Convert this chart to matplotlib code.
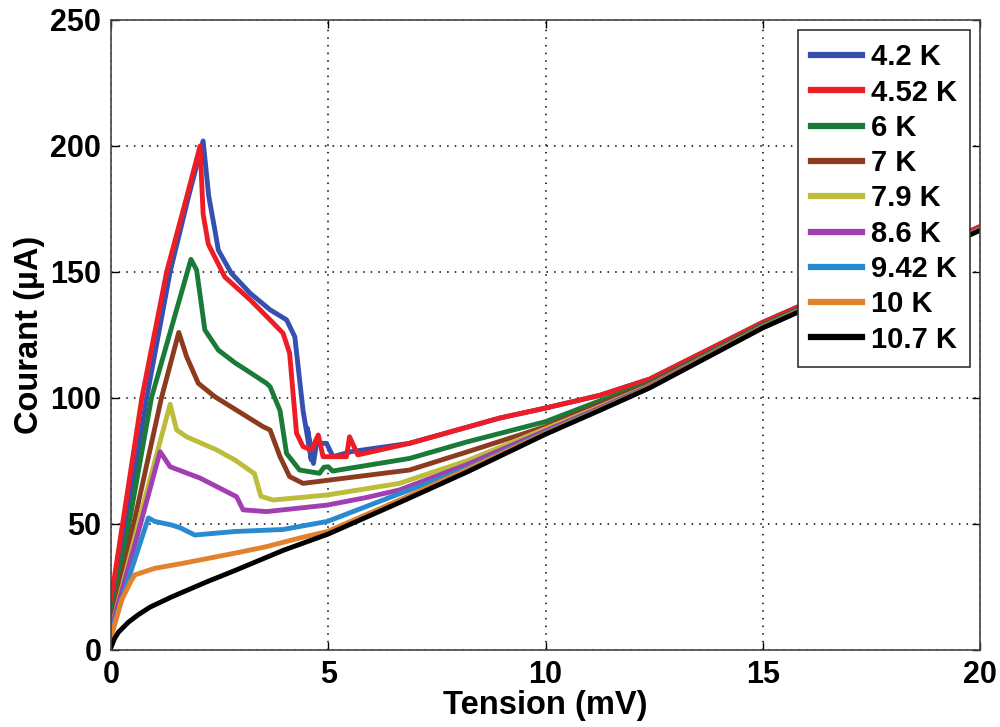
import matplotlib
matplotlib.use("Agg")
import matplotlib.pyplot as plt

# ---- data (Tension in mV, Courant in µA) ----
labels = ["4.2 K", "4.52 K", "6 K", "7 K", "7.9 K", "8.6 K", "9.42 K", "10 K", "10.7 K"]
colors = ["#3550B0", "#EE1C25", "#1A7A3A", "#8C3A20", "#BCBD3A", "#A23FB0", "#2A8AD0", "#E3822C", "#000000"]

v_42 = [0, 0.82, 1.36, 1.8, 2.12, 2.25, 2.39, 2.47, 2.77, 3.2, 3.66, 4.04, 4.23, 4.42, 4.61, 4.52, 4.66, 4.73, 4.96, 5.11, 5.53, 6.87, 8.94, 10, 11.24, 12.4, 15, 17.5, 20]
i_42 = [12, 100, 150, 181, 202, 180, 166.7, 158.7, 149.5, 141.6, 135, 131, 124.3, 95, 75.4, 88, 74, 82, 82, 76.7, 78.7, 82, 92, 96, 101, 107.5, 130, 149, 168]

v_452 = [0, 0.71, 1.28, 1.7, 2.05, 2.12, 2.24, 2.62, 3.2, 3.66, 3.96, 4.11, 4.27, 4.42, 4.61, 4.77, 4.88, 5.42, 5.49, 5.68, 6.87, 8.94, 10.0, 11.24, 12.4, 15, 17.5, 20]
i_452 = [20, 100, 150, 177, 200, 173, 161, 148, 139, 131, 125.7, 117.8, 86, 80.7, 79.4, 85.3, 76.7, 76.7, 84.6, 77.4, 82, 92, 96, 101, 107.5, 130, 149, 168]

v_6 = [0, 0.93, 1.84, 1.97, 2.16, 2.47, 2.85, 3.12, 3.58, 3.66, 3.89, 4.04, 4.34, 4.8, 4.9, 5.0, 5.1, 6.87, 8.18, 10, 11.24, 12.4, 15, 17.5, 20]
i_6 = [10, 100, 155, 150.8, 127, 119, 114, 111, 105.8, 104.5, 95, 78, 71.4, 70.1, 72.5, 72.7, 71, 76, 82.5, 90.6, 98.8, 106, 129, 148, 167]

v_7 = [0, 1.16, 1.56, 1.74, 2.01, 2.39, 3.5, 3.66, 3.89, 4.11, 4.42, 6.87, 8.18, 10, 11.24, 12.4, 15, 17.5, 20]
i_7 = [9, 100, 126, 116.4, 105.8, 100.5, 88.6, 87.3, 76.7, 68.8, 66.1, 71.4, 78.5, 88.6, 97.5, 105.5, 128.5, 147.5, 167]

v_79 = [0, 0.7, 1.36, 1.51, 1.74, 2.43, 2.85, 3.3, 3.45, 3.73, 4.98, 6.64, 8.18, 10, 11.24, 12.4, 15, 17.5, 20]
i_79 = [8, 55, 97.5, 87.3, 84.6, 79.4, 75.4, 70, 61, 59.5, 61.5, 66.1, 75, 87.8, 96.5, 105, 128.3, 147.5, 167]

v_86 = [0, 0.6, 1.13, 1.36, 2.05, 2.89, 3.04, 3.58, 4.34, 4.98, 5.88, 6.64, 8.18, 10, 11.24, 12.4, 15, 17.5, 20]
i_86 = [8, 45, 78.7, 72.7, 68.2, 60.8, 55.6, 54.9, 56.3, 57.5, 60.5, 63.5, 73.5, 87, 96, 104.8, 128.2, 147.3, 167]

v_942 = [0, 0.86, 1.01, 1.39, 1.59, 1.93, 2.85, 3.96, 4.98, 6.64, 8.18, 10, 11.24, 12.4, 15, 17.5, 20]
i_942 = [7, 52.4, 51, 49.6, 48.5, 45.6, 47, 47.8, 51, 62, 72, 86.3, 95.5, 104.5, 128.1, 147.2, 167]

v_10 = [0, 0.25, 0.45, 0.55, 1.01, 1.66, 2.85, 3.58, 4.34, 4.98, 6.64, 8.18, 10, 11.24, 12.4, 15, 17.5, 20]
i_10 = [5, 20, 27, 29.8, 32.4, 34.4, 38.4, 41, 44.4, 47, 59.5, 71.5, 86, 95.3, 104.3, 128, 147.1, 166.8]

v_107 = [0, 0.08, 0.17, 0.4, 0.63, 0.9, 1.39, 1.66, 2.2, 2.85, 3.96, 5, 6.64, 8.18, 10, 11.24, 12.4, 15, 17.5, 20]
i_107 = [1, 4.5, 7, 11, 14, 17, 21, 23, 27, 31.5, 39.5, 46, 58.5, 70.5, 85.6, 95, 104, 127.8, 147, 166.5]

series_v = [v_42, v_452, v_6, v_7, v_79, v_86, v_942, v_10, v_107]
series_i = [i_42, i_452, i_6, i_7, i_79, i_86, i_942, i_10, i_107]

x_ticks = [0, 5, 10, 15, 20]
y_ticks = [0, 50, 100, 150, 200, 250]

# ---- figure ----
plt.rcParams['font.family'] = ['Liberation Sans', 'DejaVu Sans']
plt.rcParams['font.weight'] = 'bold'

fig = plt.figure(figsize=(10, 7.27), dpi=100)
ax = fig.add_axes([0.111, 0.106, 0.869, 0.8665])

for v, i, c, lab in zip(series_v, series_i, colors, labels):
    ax.plot(v, i, color=c, lw=3.5, label=lab, solid_joinstyle='round')

ax.set_xlim(0, 20)
ax.set_ylim(0, 250)
ax.set_xticks(x_ticks)
ax.set_yticks(y_ticks)
ax.tick_params(direction='in', length=6, width=1, labelsize=22, pad=7,
               top=True, right=True)
for lab in ax.get_xticklabels() + ax.get_yticklabels():
    lab.set_fontweight('bold')
for s in ax.spines.values():
    s.set_color('#444444')
    s.set_linewidth(1.2)

ax.grid(True, color='black', linestyle=(0, (1, 4)), linewidth=1.1)
ax.set_axisbelow(True)

ax.set_xlabel("Tension (mV)", fontsize=23.5, fontweight='bold', labelpad=0)
ax.set_ylabel("Courant (µA)", fontsize=23.5, fontweight='bold', labelpad=4)

leg = ax.legend(loc='upper right', prop={'weight': 'bold', 'size': 21},
                handlelength=1.75, handletextpad=0.3, labelspacing=0.25,
                borderaxespad=0.35, fancybox=False, framealpha=1,
                edgecolor='#333333', borderpad=0.45)
leg.get_frame().set_linewidth(1.2)
for line in leg.get_lines():
    line.set_linewidth(4.5)

fig.savefig("out.png", dpi=100)
